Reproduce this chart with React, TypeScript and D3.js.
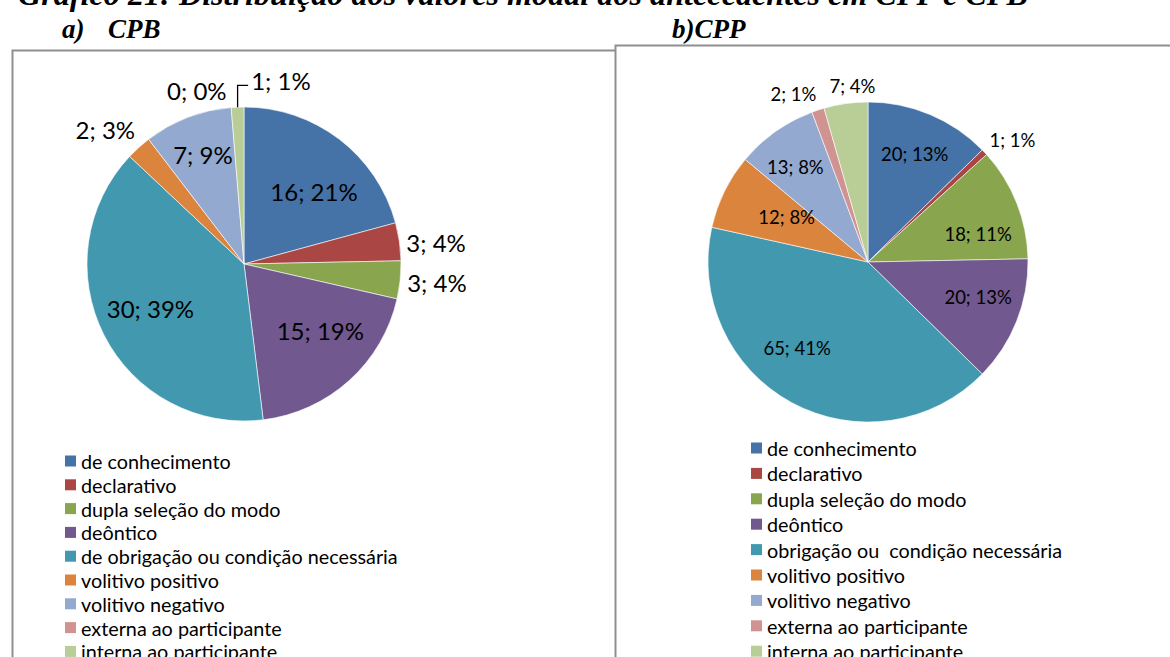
import React from "react";
import * as d3 from "d3";

// ---------- data ----------
const CATEGORIES_CPB = [
  "de conhecimento",
  "declarativo",
  "dupla seleção do modo",
  "deôntico",
  "de obrigação ou condição necessária",
  "volitivo positivo",
  "volitivo negativo",
  "externa ao participante",
  "interna ao participante",
];
const CATEGORIES_CPP = [
  "de conhecimento",
  "declarativo",
  "dupla seleção do modo",
  "deôntico",
  "obrigação ou  condição necessária",
  "volitivo positivo",
  "volitivo negativo",
  "externa ao participante",
  "interna ao participante",
];
const VALUES_CPB = [16, 3, 3, 15, 30, 2, 7, 0, 1];
const VALUES_CPP = [20, 1, 18, 20, 65, 12, 13, 2, 7];

const COLORS = [
  "#4572A7",
  "#AA4643",
  "#89A54E",
  "#71588F",
  "#4198AF",
  "#DB843D",
  "#93A9CF",
  "#D19392",
  "#B9CD96",
];

const MAIN_TITLE = "Gráfico 21: Distribuição dos valores modal dos antecedentes em CPP e CPB";

// label placement styling (not data)
const LABEL_MODE_CPB = ["in", "out", "out", "in", "in", "out", "in", "out", "out"];
const LABEL_NUDGE_CPB: [number, number][] = [
  [9, 7], [0, 5], [0, 0], [9, -8], [-4, -1], [1, -3], [-5, -16], [-29, 0], [46, -10],
];
const LEADER_CPB = [false, false, false, false, false, false, false, false, true];

const LABEL_MODE_CPP = ["in", "out", "in", "in", "in", "in", "in", "out", "out"];
const LABEL_NUDGE_CPP: [number, number][] = [
  [2, -2], [0, 0], [3, 14], [3, -7], [-16, -15], [22, 6], [-6, -1], [-8, -2], [14, -3],
];
const LEADER_CPP = [false, false, false, false, false, false, false, false, false];

const SANS = "Lato, 'Open Sans', sans-serif";
const SERIF = "'Liberation Serif', 'Times New Roman', serif";

let measureCtx: CanvasRenderingContext2D | null = null;
function textWidth(t: string, size: number) {
  if (!measureCtx) measureCtx = document.createElement("canvas").getContext("2d");
  if (!measureCtx) return t.length * size * 0.5;
  measureCtx.font = `${size}px Lato`;
  return measureCtx.measureText(t).width;
}

type PieProps = {
  cx: number;
  cy: number;
  r: number;
  values: number[];
  modes: string[];
  nudges: [number, number][];
  leaders: boolean[];
  fontSize: number;
  inFrac: number;
};

function Pie({ cx, cy, r, values, modes, nudges, leaders, fontSize, inFrac }: PieProps) {
  const total = d3.sum(values);
  const arcs = d3
    .pie<number>()
    .sort(null)
    .value((d) => d)
    .startAngle(0)
    .endAngle(2 * Math.PI)(values);
  const arcGen = d3.arc<d3.PieArcDatum<number>>().innerRadius(0).outerRadius(r);
  const clamp = (v: number) => Math.max(-1, Math.min(1, v));

  return (
    <g transform={`translate(${cx},${cy})`}>
      {arcs.map((a, i) =>
        a.endAngle > a.startAngle ? (
          <path key={"s" + i} d={arcGen(a) || ""} fill={COLORS[i]} stroke="#ffffff" strokeWidth={0.6} />
        ) : null
      )}
      {arcs.map((a, i) => {
        const v = values[i];
        const pct = Math.round((v / total) * 100);
        const label = `${v}; ${pct}%`;
        const mid = (a.startAngle + a.endAngle) / 2;
        const s = Math.sin(mid);
        const c = Math.cos(mid);
        let x: number, y: number;
        const w = textWidth(label, fontSize);
        const h = fontSize * 0.8;
        const px = s * r;
        const py = -c * r;
        if (modes[i] === "in") {
          x = s * r * inFrac;
          y = -c * r * inFrac;
        } else {
          const pad = 7;
          x = px + s * pad + (w / 2) * clamp(2 * s);
          y = py - c * pad - (h / 2) * clamp(2 * c);
        }
        x += nudges[i][0];
        y += nudges[i][1];
        const leaderY = y + fontSize * 0.2;
        return (
          <g key={"l" + i}>
            {leaders[i] ? (
              <polyline
                points={`${px},${py} ${px},${leaderY} ${x - w / 2 - 3},${leaderY}`}
                fill="none"
                stroke="#000"
                strokeWidth={1.3}
              />
            ) : null}
            <text
              x={x}
              y={y}
              textAnchor="middle"
              dominantBaseline="central"
              fontFamily={SANS}
              fontSize={fontSize}
              fill="#000"
            >
              {label}
            </text>
          </g>
        );
      })}
    </g>
  );
}

function Legend({ x, y, step, names, fontSize }: { x: number; y: number; step: number; names: string[]; fontSize: number }) {
  return (
    <g>
      {names.map((n, i) => (
        <g key={i} transform={`translate(${x},${y + i * step})`}>
          <rect x={0} y={-5.5} width={11} height={11} fill={COLORS[i]} />
          <text
            x={16}
            y={0}
            dominantBaseline="central"
            fontFamily={SANS}
            fontSize={fontSize}
            fill="#000"
            style={{ whiteSpace: "pre" }}
          >
            {n}
          </text>
        </g>
      ))}
    </g>
  );
}

export default function App() {
  return (
    <svg
      width={1170}
      height={657}
      viewBox="0 0 1170 657"
      style={{ position: "absolute", left: 0, top: 0, background: "#fff" }}
    >
      <rect x={0} y={0} width={1170} height={657} fill="#fff" />
      <text x={18} y={5} fontFamily={SERIF} fontWeight="bold" fontStyle="italic" fontSize={32.2} fill="#000">
        {MAIN_TITLE}
      </text>
      <text x={62} y={38} fontFamily={SERIF} fontWeight="bold" fontStyle="italic" fontSize={27} fill="#000">
        a)
      </text>
      <text x={108} y={38} fontFamily={SERIF} fontWeight="bold" fontStyle="italic" fontSize={27} fill="#000">
        CPB
      </text>
      <text x={672} y={38} fontFamily={SERIF} fontWeight="bold" fontStyle="italic" fontSize={27} fill="#000">
        b)CPP
      </text>

      {/* panel frames */}
      <path d="M12.5,660 L12.5,50.5 L615,50.5" fill="none" stroke="#8f8f8f" strokeWidth={2} />
      <path d="M615.5,660 L615.5,45.5 L1172,45.5" fill="none" stroke="#8f8f8f" strokeWidth={2} />

      <Pie
        cx={244}
        cy={264}
        r={157}
        values={VALUES_CPB}
        modes={LABEL_MODE_CPB}
        nudges={LABEL_NUDGE_CPB}
        leaders={LEADER_CPB}
        fontSize={24}
        inFrac={0.64}
      />
      <Pie
        cx={868}
        cy={262}
        r={160}
        values={VALUES_CPP}
        modes={LABEL_MODE_CPP}
        nudges={LABEL_NUDGE_CPP}
        leaders={LEADER_CPP}
        fontSize={18.5}
        inFrac={0.72}
      />

      <Legend x={65} y={461} step={23.8} names={CATEGORIES_CPB} fontSize={19.8} />
      <Legend x={751} y={448} step={25.4} names={CATEGORIES_CPP} fontSize={19.8} />
    </svg>
  );
}
